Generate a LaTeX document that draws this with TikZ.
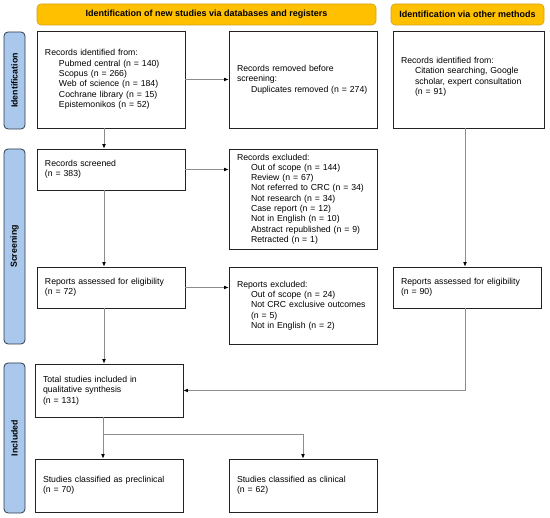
\documentclass[tikz,border=0pt]{standalone}
\usepackage{fontspec}
\setmainfont{Liberation Sans}
\usetikzlibrary{arrows.meta,calc}
\definecolor{banfill}{HTML}{FFC000}
\definecolor{banline}{HTML}{D4A017}
\definecolor{sidefill}{HTML}{A9C8EC}
\definecolor{sideline}{HTML}{2E3A4A}
\definecolor{boxline}{HTML}{222222}
\definecolor{conline}{HTML}{8C8C8C}
\newcommand{\ind}{\hspace*{14pt}}
\begin{document}
\begin{tikzpicture}[x=1pt,y=-1pt,
  box/.style={draw=boxline,line width=0.8pt,fill=white,inner xsep=8pt,inner ysep=2pt,
    align=left,font=\fontsize{8.7}{10.3}\selectfont},
  banner/.style={draw=banline,line width=0.6pt,fill=banfill,rounded corners=4pt,
    font=\fontsize{9}{10}\selectfont\bfseries,inner sep=0pt},
  side/.style={draw=sideline,line width=0.8pt,fill=sidefill,rounded corners=4pt,
    rotate=90,font=\fontsize{8.8}{10}\selectfont\bfseries,inner sep=0pt},
  arr/.style={draw=conline,line width=0.7pt,-{Latex[length=4.5pt,width=3.8pt,color=black]}},
  con/.style={draw=conline,line width=0.7pt}]
\useasboundingbox (0,0) rectangle (550,518);
% banners
\node[banner,minimum width=339pt,minimum height=21pt] (b1) at (206.5,14.5)
  {Identification of new studies via databases and registers};
\node[banner,minimum width=153pt,minimum height=21pt] (b2) at (467.5,14.5)
  {Identification via other methods};
% side labels
\node[side,minimum width=97pt,minimum height=21pt] (s1) at (14.5,80.5) {Identification};
\node[side,minimum width=195pt,minimum height=21pt] (s2) at (14.5,246.5) {Screening};
\node[side,minimum width=150pt,minimum height=21pt] (s3) at (14.5,438) {Included};
% boxes
\node[box,text width=132pt,minimum height=97pt] (id) at (111,79.5)
  {Records identified from:\\ \ind Pubmed central (n = 140)\\ \ind Scopus (n = 266)\\
   \ind Web of science (n = 184)\\ \ind Cochrane library (n = 15)\\ \ind Epistemonikos (n = 52)};
\node[box,text width=132pt,minimum height=97pt] (rem) at (303,79.5)
  {Records removed before\\ screening:\\ \ind Duplicates removed (n = 274)};
\node[box,text width=135pt,minimum height=97pt] (oth) at (468.5,79.5)
  {Records identified from:\\ \ind Citation searching, Google\\ \ind scholar, expert consultation\\ \ind (n = 91)\\[-3.3pt]\mbox{}};
\node[box,text width=132pt,minimum height=41pt] (scr) at (111,169.5)
  {Records screened\\ (n = 383)};
\node[box,text width=132pt,minimum height=100pt] (exc) at (303,199)
  {Records excluded:\\ \ind Out of scope (n = 144)\\ \ind Review (n = 67)\\ \ind Not referred to CRC (n = 34)\\
   \ind Not research (n = 34)\\ \ind Case report (n = 12)\\ \ind Not in English (n = 10)\\
   \ind Abstract republished (n = 9)\\ \ind Retracted (n = 1)};
\node[box,text width=132pt,minimum height=41pt] (rep) at (111,287.5)
  {Reports assessed for eligibility\\ (n = 72)};
\node[box,text width=132pt,minimum height=77pt] (repx) at (303,305.5)
  {Reports excluded:\\ \ind Out of scope (n = 24)\\ \ind Not CRC exclusive outcomes\\ \ind (n = 5)\\
   \ind Not in English (n = 2)};
\node[box,text width=132pt,minimum height=41pt] (rep2) at (467,287.5)
  {Reports assessed for eligibility\\ (n = 90)};
\node[box,text width=132pt,minimum height=53pt] (tot) at (109,390.5)
  {Total studies included in\\ qualitative synthesis\\ (n = 131)};
\node[box,text width=132pt,minimum height=53pt] (pre) at (109,485.5)
  {Studies classified as preclinical\\ (n = 70)};
\node[box,text width=132pt,minimum height=53pt] (cli) at (303,485.5)
  {Studies classified as clinical\\ (n = 62)};
% columns
\coordinate (c1) at (104,0);
\coordinate (c2) at (465,0);
\coordinate (br) at (103,434);
% connectors
\draw[arr] (id.east) -- (id.east -| rem.west);
\draw[arr] (id.south -| c1) -- (scr.north -| c1);
\draw[arr] (scr.east) -- (scr.east -| exc.west);
\draw[arr] (scr.south -| c1) -- (rep.north -| c1);
\draw[arr] (rep.east) -- (rep.east -| repx.west);
\draw[arr] (rep.south -| c1) -- (tot.north -| c1);
\draw[arr] (oth.south -| c2) -- (rep2.north -| c2);
\draw[arr] (rep2.south -| c2) |- (tot.east);
\draw[arr] (tot.south -| br) -- (pre.north -| br);
\draw[arr] (br) -| (cli.north);
\end{tikzpicture}
\end{document}
